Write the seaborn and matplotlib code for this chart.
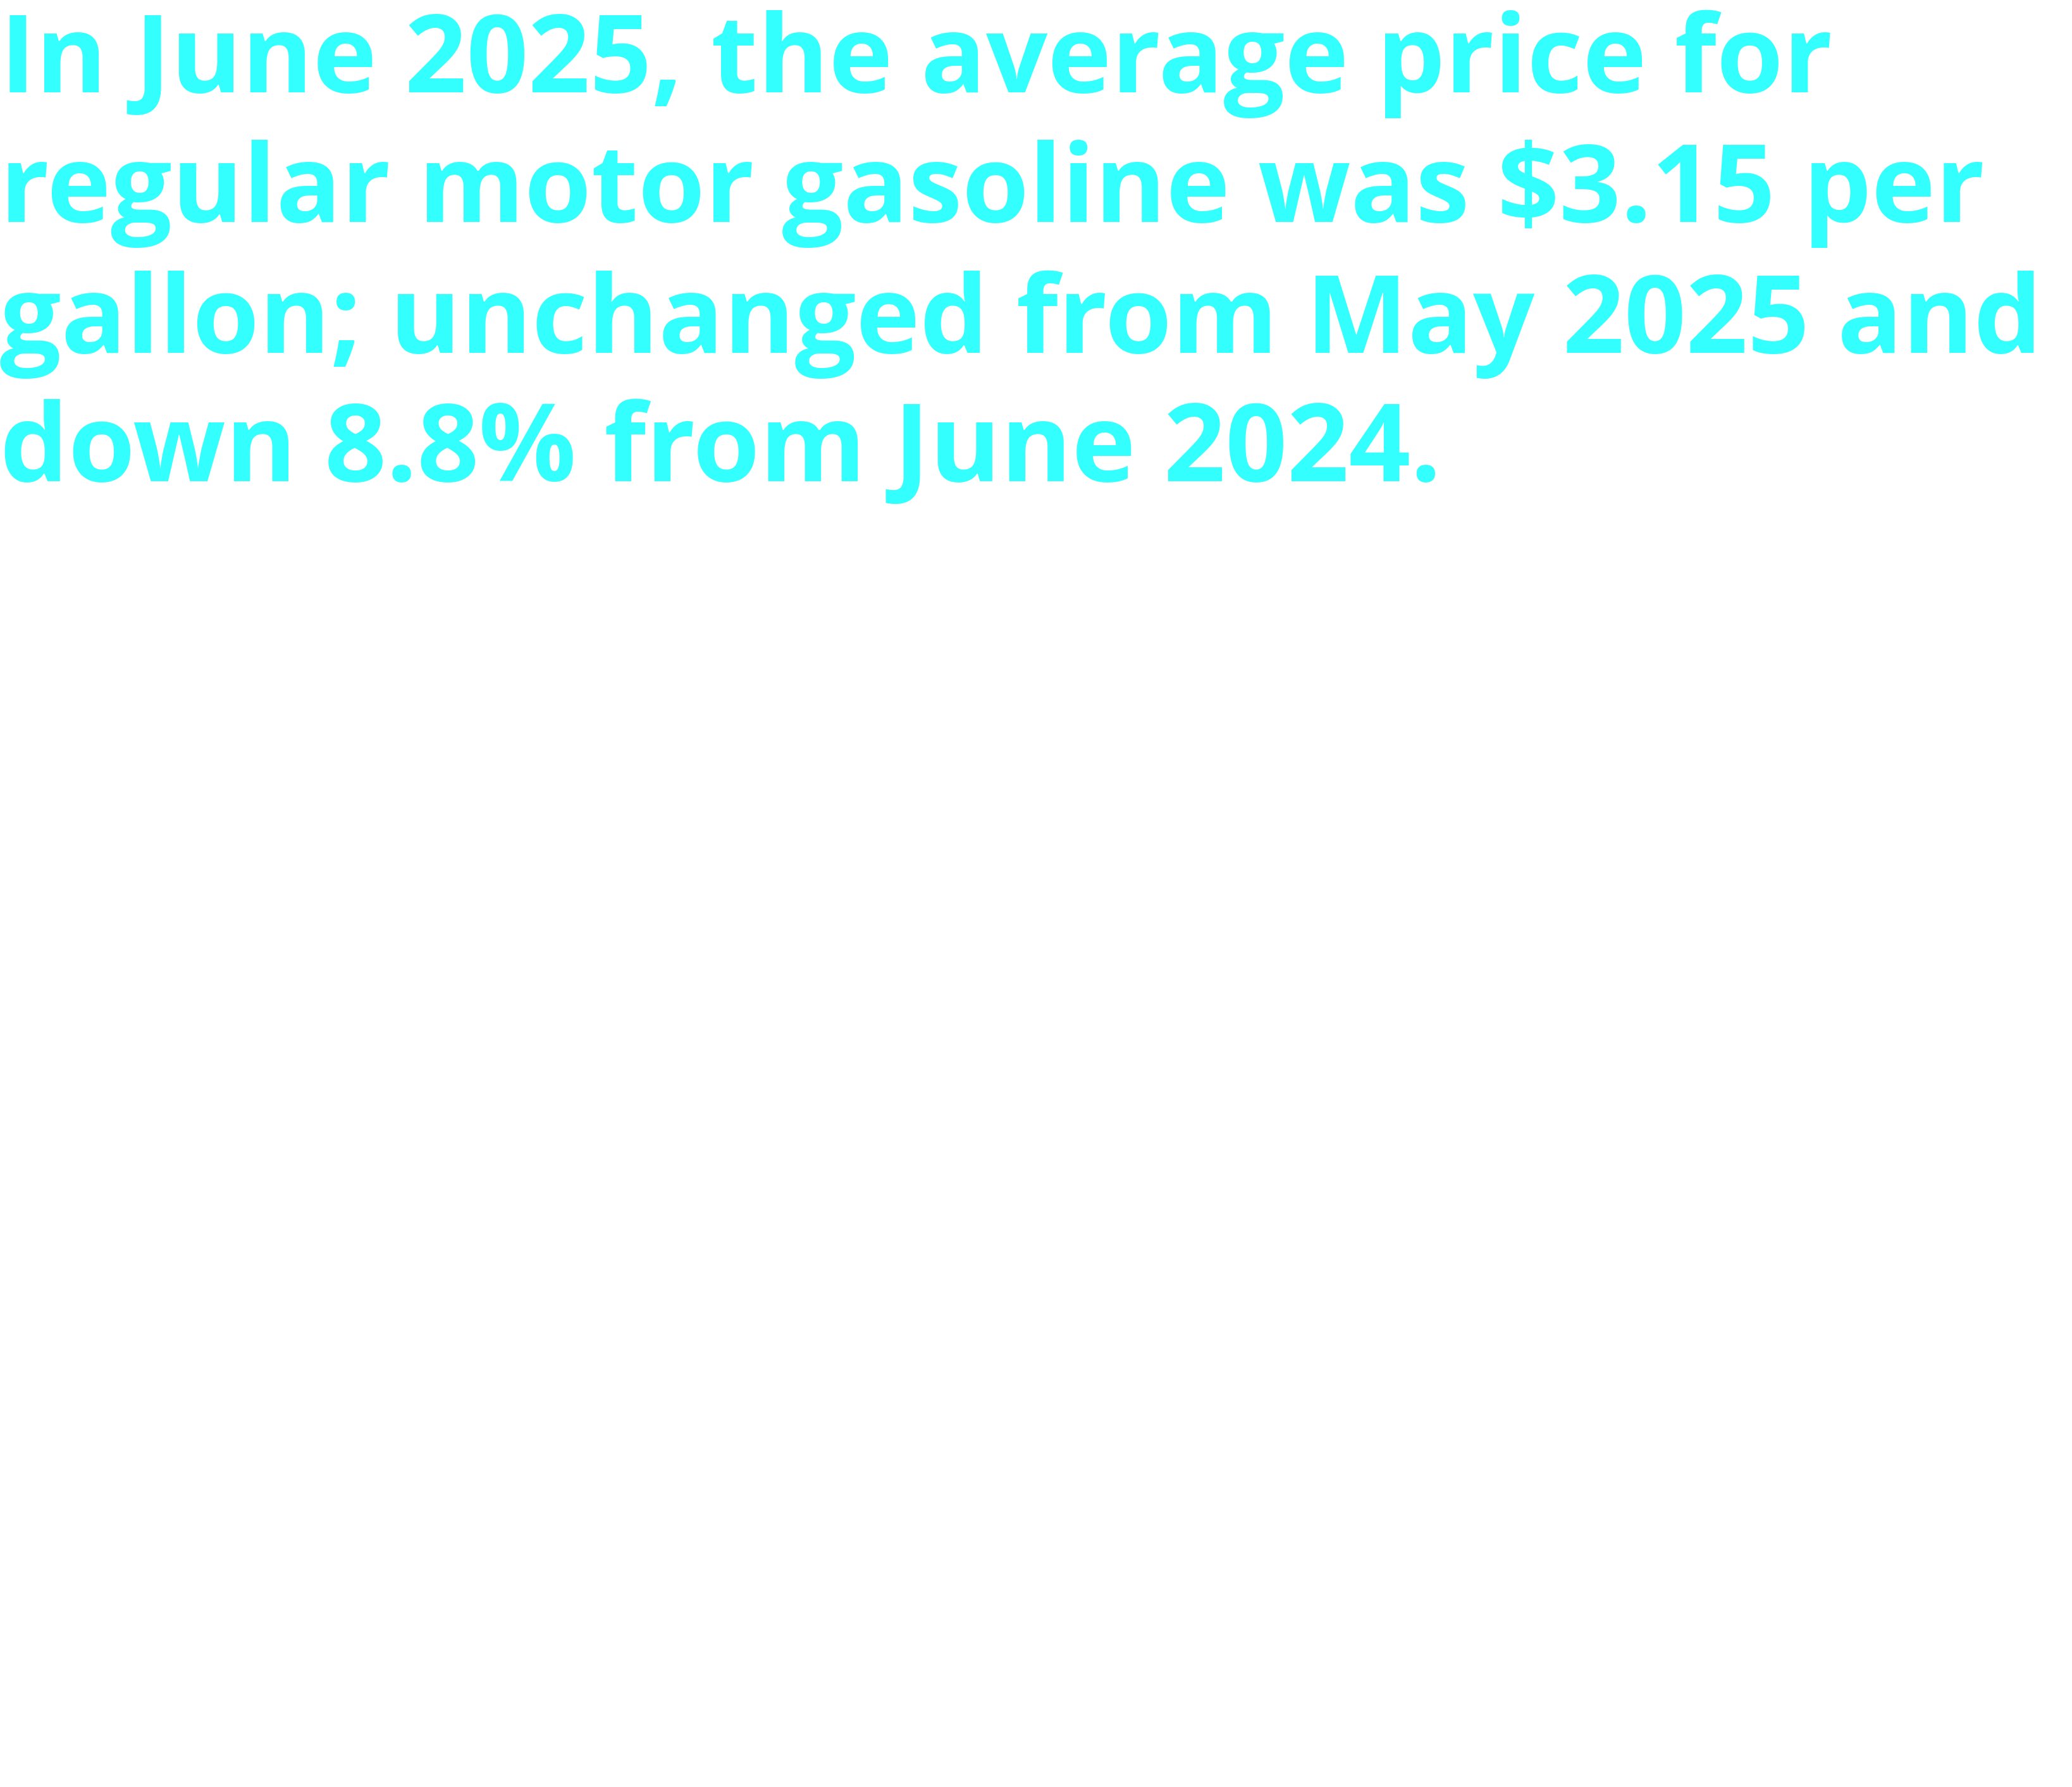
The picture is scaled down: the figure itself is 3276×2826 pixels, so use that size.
import matplotlib
matplotlib.use("Agg")
import matplotlib.pyplot as plt
import seaborn as sns

sns.set_theme(style="white")
plt.rcParams['font.family'] = ['Open Sans', 'DejaVu Sans']

lines = [
    "In June 2025, the average price for",
    "regular motor gasoline was $3.15 per",
    "gallon; unchanged from May 2025 and",
    "down 8.8% from June 2024.",
]
baselines_px = [146, 351, 558, 761]

W, H = 3276, 2826
fig = plt.figure(figsize=(W/100, H/100), dpi=100)
fig.patch.set_facecolor("white")
ax = fig.add_axes([0, 0, 1, 1])
ax.axis("off")
for t, b in zip(lines, baselines_px):
    fig.text(0.5/W, 1 - b/H, t, fontsize=123, fontweight="bold", color="#33FFFF",
             ha="left", va="baseline")
fig.savefig("out.png", dpi=100)
